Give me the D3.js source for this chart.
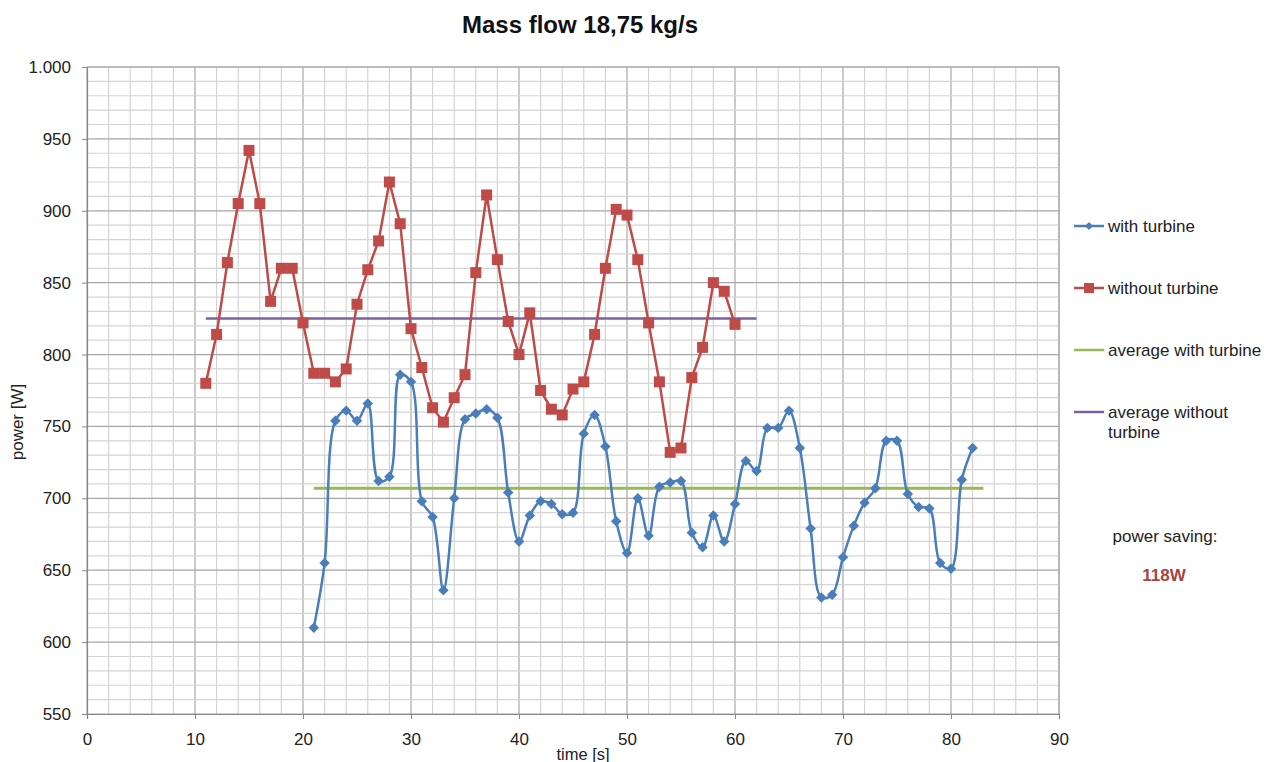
<!DOCTYPE html>
<html>
<head>
<meta charset="utf-8">
<script src="https://cdn.jsdelivr.net/npm/d3@7"></script>
<style>
  body { margin: 0; background: #fff; }
  text { font-family: "Liberation Sans", Arial, sans-serif; }
</style>
</head>
<body>
<svg id="chart" width="1264" height="762"></svg>
<script>
// time axis of the two measurements [s]
var timeWith = d3.range(21, 83);      // 21..82
var timeWithout = d3.range(11, 61);   // 11..60

var powerWith = [610, 655, 754, 761, 754, 766, 712, 715, 786, 781,
                 698, 687, 636, 700, 755, 759, 762, 756, 704, 670,
                 688, 698, 696, 689, 690, 745, 758, 736, 684, 662,
                 700, 674, 708, 711, 712, 676, 666, 688, 670, 696,
                 726, 719, 749, 749, 761, 735, 679, 631, 633, 659,
                 681, 697, 707, 740, 740, 703, 694, 693, 655, 651,
                 713, 735];

var powerWithout = [780, 814, 864, 905, 942, 905, 837, 860, 860, 822,
                    787, 787, 781, 790, 835, 859, 879, 920, 891, 818,
                    791, 763, 753, 770, 786, 857, 911, 866, 823, 800,
                    829, 775, 762, 758, 776, 781, 814, 860, 901, 897,
                    866, 822, 781, 732, 735, 784, 805, 850, 844, 821];

var avgWith = {x: [21, 83], value: 707};
var avgWithout = {x: [11, 62], value: 825};

var legendNames = ["with turbine", "without turbine", "average with turbine", "average without turbine"];
var colors = ["#4a7ebb", "#be4b48", "#98b954", "#7d60a0"];

var margin = {top: 67, left: 87};
var w = 972, h = 647;

var svg = d3.select("#chart");
var g = svg.append("g").attr("transform", "translate(" + margin.left + "," + margin.top + ")");

var x = d3.scaleLinear().domain([0, 90]).range([0, w]);
var y = d3.scaleLinear().domain([550, 1000]).range([h, 0]);

// grid
g.append("g").selectAll("line")
    .data(d3.range(0, 91, 2))
    .enter().append("line")
    .attr("x1", function (d) { return x(d); })
    .attr("x2", function (d) { return x(d); })
    .attr("y1", 0).attr("y2", h)
    .attr("stroke", function (d) { return d % 10 == 0 ? "#a6a6a6" : "#d4d4d4"; })
    .attr("stroke-width", 1.2);

g.append("g").selectAll("line")
    .data(d3.range(550, 1001, 10))
    .enter().append("line")
    .attr("y1", function (d) { return y(d); })
    .attr("y2", function (d) { return y(d); })
    .attr("x1", 0).attr("x2", w)
    .attr("stroke", function (d) { return d % 50 == 0 ? "#a6a6a6" : "#d4d4d4"; })
    .attr("stroke-width", 1.2);

// axes
var xAxis = d3.axisBottom(x).tickValues(d3.range(0, 91, 10)).tickSize(5).tickPadding(14);
var yAxis = d3.axisLeft(y).tickValues(d3.range(550, 1001, 50)).tickSize(5).tickPadding(11)
    .tickFormat(function (d) { return d == 1000 ? "1.000" : d; });

var gx = g.append("g").attr("transform", "translate(0," + h + ")").call(xAxis);
var gy = g.append("g").call(yAxis);
[gx, gy].forEach(function (a) {
    a.select(".domain").attr("stroke", "#888").attr("stroke-width", 1.2);
    a.selectAll(".tick line").attr("stroke", "#888");
    a.selectAll(".tick text").attr("fill", "#222").style("font-size", "17px");
});

// average lines
g.append("line")
    .attr("x1", x(avgWith.x[0])).attr("x2", x(avgWith.x[1]))
    .attr("y1", y(avgWith.value)).attr("y2", y(avgWith.value))
    .attr("stroke", colors[2]).attr("stroke-width", 3);
g.append("line")
    .attr("x1", x(avgWithout.x[0])).attr("x2", x(avgWithout.x[1]))
    .attr("y1", y(avgWithout.value)).attr("y2", y(avgWithout.value))
    .attr("stroke", colors[3]).attr("stroke-width", 2.5);

var lineStraight = d3.line()
    .x(function (d) { return x(d[0]); })
    .y(function (d) { return y(d[1]); });
var lineSmooth = d3.line()
    .x(function (d) { return x(d[0]); })
    .y(function (d) { return y(d[1]); })
    .curve(d3.curveCatmullRom.alpha(0.5));

var dataWith = timeWith.map(function (t, i) { return [t, powerWith[i]]; });
var dataWithout = timeWithout.map(function (t, i) { return [t, powerWithout[i]]; });

// without turbine
g.append("path").datum(dataWithout)
    .attr("d", lineStraight).attr("fill", "none")
    .attr("stroke", colors[1]).attr("stroke-width", 2.5);
g.append("g").selectAll("rect").data(dataWithout).enter().append("rect")
    .attr("x", function (d) { return x(d[0]) - 5.5; })
    .attr("y", function (d) { return y(d[1]) - 5.5; })
    .attr("width", 11).attr("height", 11)
    .attr("fill", colors[1]);

// with turbine
g.append("path").datum(dataWith)
    .attr("d", lineSmooth).attr("fill", "none")
    .attr("stroke", colors[0]).attr("stroke-width", 2.5);
var diamond = d3.symbol().type(d3.symbolDiamond2).size(70);
g.append("g").selectAll("path").data(dataWith).enter().append("path")
    .attr("d", diamond)
    .attr("transform", function (d) { return "translate(" + x(d[0]) + "," + y(d[1]) + ")"; })
    .attr("fill", colors[0]);

// plot border top/right
g.append("line").attr("x1", 0).attr("x2", w).attr("y1", 0).attr("y2", 0).attr("stroke", "#a6a6a6");
g.append("line").attr("x1", w).attr("x2", w).attr("y1", 0).attr("y2", h).attr("stroke", "#a6a6a6");

// title & axis labels
svg.append("text").attr("x", 580).attr("y", 33).attr("text-anchor", "middle")
    .style("font-size", "24px").style("font-weight", "bold").attr("fill", "#111")
    .text("Mass flow 18,75 kg/s");
svg.append("text").attr("x", 583).attr("y", 760).attr("text-anchor", "middle")
    .style("font-size", "16.5px").attr("fill", "#222").text("time [s]");
svg.append("text").attr("transform", "translate(23,422) rotate(-90)").attr("text-anchor", "middle")
    .style("font-size", "17px").attr("fill", "#222").text("power [W]");

// legend
var legendY = [226, 288, 350, 412];
var leg = svg.append("g").attr("transform", "translate(1074,0)");
legendNames.forEach(function (name, i) {
    var ly = legendY[i];
    leg.append("line").attr("x1", 0).attr("x2", 30).attr("y1", ly).attr("y2", ly)
        .attr("stroke", colors[i]).attr("stroke-width", 2.5);
    if (i == 0) {
        leg.append("path").attr("d", d3.symbol().type(d3.symbolDiamond2).size(40))
            .attr("transform", "translate(15," + ly + ")").attr("fill", colors[0]);
    }
    if (i == 1) {
        leg.append("rect").attr("x", 10).attr("y", ly - 5).attr("width", 10).attr("height", 10)
            .attr("fill", colors[1]);
    }
    var t = leg.append("text").attr("x", 34).attr("y", ly + 6).style("font-size", "17px").attr("fill", "#222");
    if (i == 3) {
        t.append("tspan").attr("x", 34).text("average without");
        t.append("tspan").attr("x", 34).attr("dy", 20).text("turbine");
    } else {
        t.text(name);
    }
});

svg.append("text").attr("x", 1165).attr("y", 542).attr("text-anchor", "middle")
    .style("font-size", "17px").attr("fill", "#222").text("power saving:");
svg.append("text").attr("x", 1164).attr("y", 581).attr("text-anchor", "middle")
    .style("font-size", "17px").style("font-weight", "bold").attr("fill", "#a5433f").text("118W");
</script>
</body>
</html>
